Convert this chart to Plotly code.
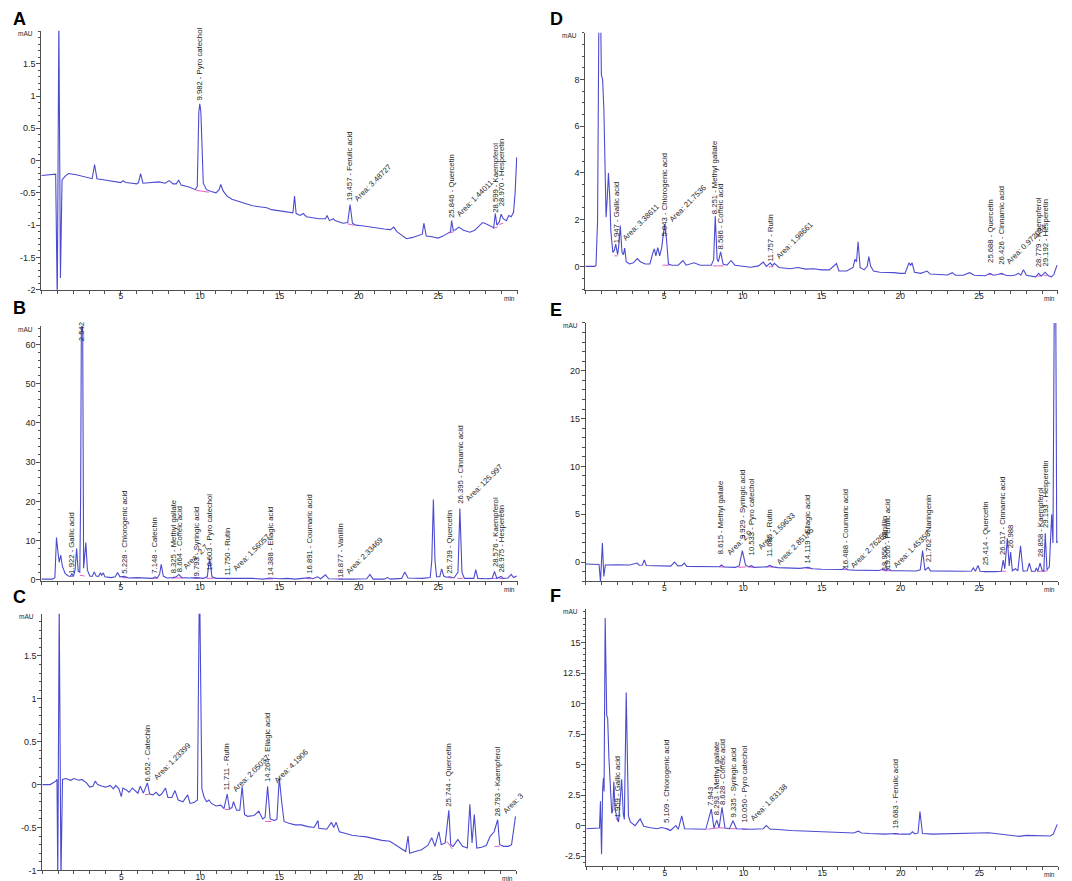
import plotly.graph_objects as go

W, H = 1072, 881

# ---------------- Panel A ----------------
A_time = [0, 0.5, 0.9, 1.0, 1.1, 1.2, 1.3, 1.5, 1.7, 2.2, 2.7, 3.2, 3.35, 3.5, 4.0, 4.5, 5.0, 5.15, 5.3,
          5.7, 6.0, 6.12, 6.25, 6.4, 7.0, 7.4, 7.8, 8.05, 8.3, 8.5, 8.65, 8.8, 9.3, 9.7, 9.82, 9.92, 9.98,
          10.05, 10.2, 10.4, 10.7, 11.0, 11.2, 11.3, 11.45, 11.7, 12.0, 12.5, 13.0, 13.3, 13.6, 14.0, 14.2,
          14.5, 15.0, 15.5, 15.85, 15.95, 16.05, 16.3, 16.5, 16.7, 17.0, 17.5, 17.9, 18.0, 18.15, 18.4,
          18.5, 18.7, 19.0, 19.3, 19.45, 19.6, 19.8, 20.2, 20.7, 21.2, 21.6, 22.0, 22.2, 22.4, 22.8, 23.0,
          23.4, 23.8, 24.0, 24.1, 24.25, 24.6, 24.85, 25.0, 25.3, 25.6, 25.78, 25.85, 25.95, 26.1, 26.3,
          26.6, 27.0, 27.3, 27.6, 27.8, 28.0, 28.3, 28.5, 28.6, 28.7, 28.85, 28.97, 29.1, 29.3, 29.45,
          29.6, 29.75, 29.85, 29.95]
A_mAU = [-0.23, -0.22, -0.21, -2.2, 2.2, -1.82, -0.3, -0.24, -0.2, -0.22, -0.25, -0.28, -0.06, -0.28,
         -0.3, -0.32, -0.34, -0.31, -0.34, -0.35, -0.36, -0.34, -0.2, -0.35, -0.34, -0.33, -0.35, -0.31,
         -0.36, -0.36, -0.3, -0.38, -0.41, -0.45, -0.4, 0.75, 0.88, 0.75, -0.35, -0.45, -0.48, -0.5, -0.45,
         -0.37, -0.47, -0.55, -0.6, -0.64, -0.68, -0.7, -0.71, -0.72, -0.73, -0.76, -0.78, -0.8, -0.81,
         -0.55, -0.82, -0.85, -0.82, -0.87, -0.88, -0.9, -0.9, -0.85, -0.93, -0.9, -0.93, -0.95, -0.97,
         -0.96, -0.68, -0.97, -1.0, -1.01, -1.03, -1.04, -1.06, -1.07, -1.03, -1.1, -1.17, -1.21, -1.19,
         -1.16, -1.14, -0.97, -1.17, -1.18, -1.19, -1.2, -1.17, -1.13, -1.1, -0.93, -1.08, -1.07, -1.03,
         -1.08, -1.11, -1.08, -1.0, -0.96, -0.98, -1.02, -1.04, -0.82, -1.0, -0.95, -0.83, -0.9, -0.93,
         -0.85, -0.87, -0.8, -0.5, 0.05]
A_integ = [(9.75, 10.55, -0.46, -0.49), (19.3, 19.7, -0.98, -1.0), (25.7, 26.0, -1.12, -1.1),
           (28.45, 28.75, -1.05, -1.03), (28.85, 29.1, -0.99, -0.97)]
A_rt = [9.982, 19.457, 25.846, 28.599, 28.970]
A_name = ["Pyro catechol", "Ferulic acid", "Quercetin", "Kaempferol", "Hesperetin"]
A_label_at = [0.92, -0.64, -0.91, -0.82, -0.72]
A_area_x = [19.56, 25.95]
A_area = ["3.48727", "1.44011"]
A_area_at = [-0.68, -0.92]
A_yrange = [-2.0, 2.01]
A_yticks = [-2, -1.5, -1, -0.5, 0, 0.5, 1, 1.5]

# ---------------- Panel B ----------------
B_time = [0, 0.7, 0.85, 0.95, 1.02, 1.12, 1.22, 1.32, 1.5, 1.7, 1.82, 1.92, 2.02, 2.12, 2.22, 2.32, 2.42,
          2.47, 2.52, 2.6, 2.66, 2.8, 2.9, 3.05, 3.2, 3.33, 3.45, 3.6, 3.72, 3.8, 3.9, 4.0, 4.4, 4.65, 4.8,
          4.95, 5.23, 5.5, 6.0, 6.5, 7.0, 7.15, 7.3, 7.45, 7.55, 7.68, 7.9, 8.3, 8.5, 8.66, 8.85, 9.3, 9.79,
          10.2, 10.45, 10.6, 10.75, 11.0, 11.75, 12.5, 13.3, 14.0, 14.39, 15.0, 15.5, 16.0, 16.9, 17.1,
          17.4, 17.6, 17.9, 18.1, 18.9, 19.5, 20.5, 20.7, 20.9, 21.6, 21.8, 22.0, 22.7, 22.9, 23.1, 23.5,
          24.0, 24.5, 24.6, 24.7, 24.8, 24.9, 25.1, 25.22, 25.35, 25.5, 25.74, 26.0, 26.25, 26.37, 26.5,
          26.65, 27.0, 27.25, 27.37, 27.5, 28.0, 28.4, 28.55, 28.7, 28.97, 29.1, 29.4, 29.6, 29.75, 29.95]
B_mAU = [0.2, 0.2, 0.6, 10.8, 8.0, 4.5, 6.3, 3.5, 1.6, 1.0, 0.9, 1.6, 0.9, 2.5, 8.0, 2.2, 2.0, 20.0, 66.0,
         66.0, 3.0, 9.5, 2.5, 1.0, 0.9, 2.0, 1.0, 0.9, 1.8, 1.2, 1.8, 0.8, 0.6, 0.8, 1.9, 0.8, 0.9, 0.5,
         0.6, 0.5, 0.4, 0.8, 0.5, 1.5, 4.0, 1.0, 0.5, 0.6, 0.8, 1.4, 0.6, 0.5, 0.6, 0.4, 0.8, 5.5, 0.8,
         0.4, 0.4, 0.3, 0.4, 0.2, 0.5, 0.3, 0.4, 0.2, 0.6, 0.3, 0.8, 0.3, 1.3, 0.3, 0.2, 0.2, 0.3, 1.4,
         0.2, 0.2, 0.6, 0.2, 0.4, 2.0, 0.5, 0.4, 0.4, 0.6, 5.0, 20.5, 5.0, 0.8, 0.8, 2.8, 1.0, 0.7, 0.8,
         0.5, 2.0, 18.2, 2.0, 0.4, 0.3, 0.4, 2.6, 0.4, 0.3, 0.4, 2.2, 0.4, 0.9, 0.4, 0.5, 1.4, 0.6, 1.0]
B_integ = [(1.85, 2.0, 0.9, 0.9), (2.42, 2.72, 1.2, 1.0), (5.1, 5.4, 0.6, 0.5), (7.0, 7.3, 0.4, 0.4),
           (8.2, 8.9, 0.5, 0.5), (9.6, 10.0, 0.4, 0.4), (10.4, 10.85, 0.4, 0.4), (11.6, 11.9, 0.3, 0.3),
           (14.2, 14.6, 0.25, 0.25), (16.7, 17.0, 0.35, 0.3), (18.7, 19.0, 0.2, 0.2), (25.6, 25.9, 0.6, 0.5),
           (26.2, 26.55, 0.4, 0.4), (28.4, 28.7, 0.4, 0.4), (28.85, 29.1, 0.35, 0.35)]
B_rt = [1.922, 2.542, 5.228, 7.148, 8.325, 8.664, 9.793, 10.603, 11.750, 14.388, 16.891, 18.877,
        25.739, 26.395, 28.576, 28.975]
B_name = ["Gallic acid", "", "Chlorogenic acid", "Catechin", "Methyl gallate", "Coffeic acid",
          "Syringic acid", "Pyro catechol", "Rutin", "Ellagic acid", "Coumaric acid", "Vanillin",
          "Quercetin", "Cinnamic acid", "Kaempferol", "Hesperetin"]
B_label_at = [1.3, 60.6, 1.3, 1.3, 1.3, 1.7, 0.6, 2.1, 0.85, 0.85, 1.3, 0.4, 1.3, 19.1, 3.0, 1.7]
B_area_x = [8.75, 11.87, 19.0, 26.55]
B_area = ["2.7", "1.56057", "2.33469", "125.997"]
B_area_at = [2.0, 1.6, 0.8, 19.3]
B_yrange = [-0.2, 64.64]
B_yticks = [0, 10, 20, 30, 40, 50, 60]

# ---------------- Panel C ----------------
C_time = [0, 0.5, 0.85, 0.93, 0.98, 1.07, 1.18, 1.28, 1.5, 1.8, 2.0, 2.3, 2.5, 2.8, 3.0, 3.2, 3.35, 3.5,
          3.8, 4.0, 4.3, 4.5, 4.65, 4.85, 5.0, 5.1, 5.3, 5.5, 5.7, 5.9, 6.05, 6.2, 6.4, 6.65, 6.8, 7.0,
          7.2, 7.4, 7.55, 7.8, 7.95, 8.2, 8.4, 8.6, 8.9, 9.2, 9.35, 9.6, 9.82, 9.93, 9.97, 10.1, 10.25,
          10.4, 10.55, 10.7, 11.0, 11.3, 11.5, 11.7, 11.85, 12.0, 12.1, 12.3, 12.5, 12.65, 12.8, 13.0,
          13.4, 13.7, 13.95, 14.1, 14.26, 14.42, 14.7, 14.85, 15.0, 15.15, 15.3, 15.6, 16.0, 16.4, 16.8,
          17.2, 17.45, 17.5, 18.0, 18.3, 18.45, 18.6, 18.8, 19.2, 19.6, 20.0, 20.5, 21.0, 21.5, 22.0,
          22.5, 23.0, 23.15, 23.25, 23.6, 24.0, 24.4, 24.65, 24.85, 25.1, 25.25, 25.5, 25.73, 25.85,
          26.0, 26.3, 26.6, 26.9, 27.06, 27.2, 27.34, 27.5, 27.8, 28.1, 28.35, 28.6, 28.82, 28.95,
          29.2, 29.5, 29.7, 29.95]
C_mAU = [0.0, 0.0, 0.04, 0.06, -1.1, 2.1, -1.1, 0.06, 0.07, 0.05, 0.07, 0.05, 0.06, 0.02, -0.03, -0.02,
         0.04, 0.0, -0.02, -0.03, -0.01, -0.05, -0.01, -0.05, -0.14, -0.04, -0.06, -0.09, -0.04, -0.08,
         -0.1, -0.02, -0.1, 0.02, -0.11, -0.12, -0.09, -0.13, -0.11, -0.04, -0.15, -0.15, -0.07, -0.18,
         -0.2, -0.12, -0.22, -0.21, -0.18, 2.1, 2.1, -0.05, -0.15, -0.2, -0.18, -0.22, -0.25, -0.24,
         -0.28, -0.11, -0.28, -0.27, -0.2, -0.3, -0.3, -0.02, -0.35, -0.37, -0.36, -0.31, -0.4, -0.38,
         -0.02, -0.4, -0.42, -0.4, 0.08, -0.2, -0.43, -0.45, -0.47, -0.47, -0.49, -0.5, -0.42, -0.51,
         -0.52, -0.44, -0.5, -0.44, -0.55, -0.57, -0.59, -0.6, -0.61, -0.63, -0.65, -0.66, -0.72, -0.78,
         -0.6, -0.8, -0.78, -0.76, -0.71, -0.62, -0.72, -0.55, -0.7, -0.68, -0.3, -0.7, -0.72, -0.64,
         -0.72, -0.74, -0.23, -0.68, -0.35, -0.74, -0.73, -0.71, -0.6, -0.55, -0.41, -0.7, -0.72, -0.72,
         -0.7, -0.37]
C_integ = [(6.5, 6.8, -0.12, -0.11), (11.55, 11.9, -0.29, -0.29), (14.1, 14.5, -0.43, -0.43),
           (25.6, 25.95, -0.66, -0.75), (28.62, 28.95, -0.72, -0.72)]
C_rt = [6.652, 11.711, 14.264, 25.744, 28.793]
C_name = ["Catechin", "Rutin", "Ellagic acid", "Quercetin", "Kaempferol"]
C_label_at = [0.03, -0.08, 0.02, -0.27, -0.38]
C_area_x = [6.85, 11.85, 14.45, 28.95]
C_area = ["1.23399", "2.05037", "4.1906", "3"]
C_area_at = [0.02, -0.12, -0.02, -0.38]
C_yrange = [-1.0, 1.99]
C_yticks = [-1, -0.5, 0, 0.5, 1, 1.5]

# ---------------- Panel D ----------------
D_time = [0, 0.6, 0.68, 0.78, 0.86, 0.98, 1.02, 1.1, 1.18, 1.26, 1.32, 1.4, 1.47, 1.55, 1.62, 1.75, 1.85,
          1.93, 2.05, 2.13, 2.22, 2.33, 2.42, 2.5, 2.6, 2.8, 3.05, 3.3, 3.5, 3.8, 4.1, 4.3, 4.38, 4.48,
          4.6, 4.72, 4.85, 5.03, 5.15, 5.28, 5.5, 5.9, 6.2, 6.4, 6.9, 7.3, 8.0, 8.15, 8.25, 8.37, 8.45,
          8.59, 8.75, 9.0, 9.25, 9.5, 10.0, 10.5, 11.0, 11.3, 11.5, 11.75, 11.88, 12.0, 12.3, 12.7, 13.0,
          13.5, 14.0, 14.5, 15.0, 15.5, 15.95, 16.1, 16.6, 17.0, 17.12, 17.22, 17.32, 17.45, 17.7, 17.9,
          18.0, 18.12, 18.3, 18.7, 19.2, 19.6, 20.0, 20.3, 20.55, 20.65, 20.75, 20.9, 21.3, 21.7, 21.9,
          22.5, 23.0, 23.3, 23.5, 24.0, 24.4, 24.7, 25.0, 25.4, 25.69, 25.9, 26.2, 26.43, 26.7, 27.0,
          27.3, 27.5, 27.65, 27.82, 28.0, 28.4, 28.6, 28.78, 28.95, 29.19, 29.4, 29.6, 29.75, 29.95]
D_mAU = [0.0, 0.0, 0.05, 2.0, 10.5, 10.5, 8.2, 8.0, 6.7, 4.5, 2.1, 3.0, 4.0, 3.0, 1.5, 0.6, 0.7, 0.95,
         0.5, 0.9, 1.75, 0.6, 0.5, 0.78, 0.2, 0.1, 0.15, 0.33, 0.2, 0.1, 0.1, 0.6, 0.75, 0.45, 0.8, 0.45,
         0.8, 1.8, 1.2, 0.1, 0.05, 0.05, 0.25, 0.05, 0.15, 0.05, 0.05, 0.3, 2.15, 0.3, 0.2, 0.62, 0.1,
         0.05, 0.25, 0.05, 0.02, -0.04, 0.02, 0.18, 0.0, 0.15, 0.02, 0.13, -0.05, -0.08, -0.1, -0.05,
         -0.12, -0.1, -0.15, -0.15, 0.12, -0.2, -0.2, -0.05, 0.3, 0.2, 1.05, -0.05, -0.15, 0.0, 0.42, 0.0,
         -0.2, -0.25, -0.25, -0.27, -0.3, -0.3, 0.15, 0.05, 0.15, -0.25, -0.3, -0.2, -0.33, -0.35, -0.37,
         -0.27, -0.38, -0.38, -0.27, -0.38, -0.4, -0.4, -0.3, -0.38, -0.35, -0.3, -0.38, -0.4, -0.37,
         -0.3, -0.38, -0.15, -0.38, -0.43, -0.45, -0.3, -0.42, -0.25, -0.4, -0.45, -0.35, 0.05]
D_integ = [(1.85, 2.05, 0.45, 0.45), (4.9, 5.35, 0.05, 0.05), (8.1, 8.45, 0.02, 0.02), (8.45, 8.8, 0.02, 0.02),
           (11.65, 11.95, -0.02, -0.02), (25.6, 25.85, -0.35, -0.35), (26.3, 26.55, -0.33, -0.35),
           (28.7, 28.9, -0.42, -0.42), (29.1, 29.3, -0.38, -0.4)]
D_rt = [1.947, 5.043, 8.251, 8.586, 11.757, 25.688, 26.426, 28.779, 29.192]
D_name = ["Gallic acid", "Chlorogenic acid", "Methyl gallate", "Coffeic acid", "Rutin", "Quercetin",
          "Cinnamic acid", "Kaempferol", "Hesperetin"]
D_label_at = [0.94, 1.25, 2.2, 0.66, 0.17, 0.1, 0.03, -0.1, -0.05]
D_area_x = [2.15, 5.15, 11.9, 26.5]
D_area = ["3.38611", "21.7536", "1.98661", "0.972034"]
D_area_at = [0.95, 1.75, 0.2, -0.05]
D_yrange = [-1.0, 10.0]
D_yticks = [0, 2, 4, 6, 8]

# ---------------- Panel E ----------------
E_time = [0, 0.85, 0.94, 1.06, 1.15, 1.25, 2.0, 2.8, 3.26, 3.4, 3.6, 3.72, 3.85, 4.5, 5.0, 5.4, 5.64, 5.85,
          6.1, 6.26, 6.42, 7.0, 7.5, 8.0, 8.5, 8.62, 8.8, 9.5, 9.75, 9.95, 10.15, 10.35, 10.53, 10.7, 11.2,
          11.5, 11.68, 11.9, 12.2, 13.0, 13.6, 14.12, 14.4, 15.0, 15.6, 16.0, 16.3, 16.45, 16.65, 17.0,
          17.5, 18.0, 18.6, 18.95, 19.08, 19.2, 19.4, 20.0, 20.5, 21.0, 21.25, 21.4, 21.55, 21.76, 21.9,
          22.5, 23.0, 23.5, 24.0, 24.5, 24.62, 24.75, 24.92, 25.05, 25.4, 26.0, 26.4, 26.52, 26.62,
          26.78, 26.9, 26.99, 27.1, 27.3, 27.45, 27.62, 27.78, 28.05, 28.18, 28.32, 28.55, 28.62, 28.72,
          28.86, 29.0, 29.1, 29.19, 29.3, 29.45, 29.6, 29.68, 29.76, 29.86, 29.92, 29.97]
E_mAU = [-0.2, -0.25, -2.1, 2.0, -1.5, -0.3, -0.27, -0.3, -0.1, -0.33, -0.3, 0.22, -0.35, -0.4, -0.45,
         -0.42, 0.0, -0.4, -0.38, -0.1, -0.45, -0.46, -0.48, -0.5, -0.48, -0.3, -0.52, -0.55, -0.4, 1.2,
         -0.3, -0.5, -0.38, -0.55, -0.55, -0.5, -0.35, -0.5, -0.58, -0.63, -0.66, -0.55, -0.7, -0.74,
         -0.78, -0.8, -0.78, -0.55, -0.8, -0.84, -0.86, -0.9, -0.88, -0.72, -0.9, -0.65, -0.9, -0.9,
         -0.92, -0.93, -0.8, 1.2, -0.85, -0.55, -0.92, -0.95, -0.95, -0.96, -0.95, -0.93, -0.6, -0.95,
         -0.35, -0.95, -1.0, -1.0, -0.95, 0.2, -0.7, 2.5, -0.4, 1.05, -0.9, -0.7, -0.9, 1.7, -0.95, -0.9,
         -0.1, -0.95, -0.95, -0.6, -0.95, -0.1, -0.9, -0.95, 3.0, -0.8, -0.5, 5.0, 2.0, 26.0, 26.0, 2.0,
         2.2]
E_integ = [(8.5, 8.8, -0.5, -0.52), (9.7, 10.2, -0.55, -0.5), (10.4, 10.7, -0.52, -0.55),
           (11.5, 11.9, -0.5, -0.52), (14.0, 14.4, -0.62, -0.7), (16.3, 16.7, -0.78, -0.8),
           (18.85, 19.1, -0.88, -0.9), (19.1, 19.4, -0.9, -0.9), (25.3, 25.55, -1.0, -1.0),
           (26.4, 26.7, -0.95, -0.95), (28.7, 29.0, -0.98, -0.95), (29.05, 29.35, -0.95, -0.9)]
E_rt = [8.615, 9.929, 10.533, 11.685, 14.119, 16.488, 18.956, 19.200, 21.762, 25.414, 26.517, 26.988,
        28.858, 29.193]
E_name = ["Methyl gallate", "Syringic acid", "Pyro catechol", "Rutin", "Ellagic acid", "Coumaric acid",
          "Vanillin", "Ferulic acid", "Naringenin", "Quercetin", "Cinnamic acid", "", "Kaempferol",
          "Hesperetin"]
E_label_at = [0.75, 2.3, 0.6, 0.4, -0.2, -0.8, -1.0, -0.8, -0.1, -0.45, 0.6, 1.3, 0.4, 3.5]
E_area_x = [8.8, 10.75, 11.9, 16.65, 19.35]
E_area = ["2.0", "1.59633", "2.85145", "2.76265", "1.45358"]
E_area_at = [0.4, 0.9, -0.6, -0.97, -0.97]
E_yrange = [-2.02, 25.0]
E_yticks = [0, 5, 10, 15, 20]

# ---------------- Panel F ----------------
F_time = [0, 0.75, 0.84, 0.9, 0.97, 1.04, 1.09, 1.13, 1.2, 1.3, 1.36, 1.44, 1.52, 1.62, 1.68, 1.75, 1.83,
          1.9, 1.97, 2.05, 2.15, 2.25, 2.35, 2.42, 2.54, 2.68, 2.8, 3.1, 3.43, 3.65, 4.0, 4.5, 4.8, 5.11,
          5.35, 5.7, 5.85, 6.07, 6.25, 7.0, 7.6, 7.95, 8.12, 8.3, 8.45, 8.63, 8.82, 9.1, 9.33, 9.55, 10.05,
          10.5, 11.25, 11.45, 11.7, 12.0, 13.0, 14.0, 15.0, 16.0, 17.0, 17.3, 17.5, 18.0, 19.0, 19.68,
          20.0, 20.6, 20.74, 20.9, 21.1, 21.22, 21.38, 22.0, 23.0, 24.0, 25.0, 25.6, 26.0, 27.0, 27.5,
          28.0, 29.0, 29.5, 29.7, 29.95]
F_mAU = [-0.25, -0.25, -0.2, 2.0, -2.35, 3.0, 3.9, 2.8, 17.0, 9.0, 8.8, 5.5, 3.0, 1.0, 1.2, 3.6, 1.3, 0.8,
         0.6, 0.3, 2.0, 3.8, 1.0, 0.5, 10.9, 0.8, 0.3, 0.0, 0.55, -0.05, -0.15, -0.25, -0.15, -0.25, -0.4,
         0.0, -0.3, 0.8, -0.25, -0.3, -0.3, 1.35, -0.2, 0.45, -0.15, 1.5, -0.2, -0.25, 0.4, -0.25, -0.3,
         -0.3, -0.25, 0.0, -0.3, -0.3, -0.4, -0.45, -0.5, -0.55, -0.6, -0.45, -0.6, -0.65, -0.7, -0.65,
         -0.7, -0.7, -0.5, -0.68, -0.6, 1.15, -0.65, -0.7, -0.65, -0.6, -0.57, -0.58, -0.65, -0.8, -0.88,
         -0.8, -0.85, -0.85, -0.7, 0.1]
F_integ = [(1.88, 2.05, 0.6, 0.3), (5.0, 5.3, -0.25, -0.3), (7.7, 8.1, -0.3, -0.22), (8.1, 8.45, -0.22, -0.18),
           (8.45, 8.8, -0.18, -0.2), (9.1, 9.6, -0.25, -0.25), (9.9, 10.25, -0.3, -0.3), (19.5, 19.9, -0.68, -0.7)]
F_rt = [1.959, 5.109, 7.943, 8.293, 8.628, 9.335, 10.050, 19.683]
F_name = ["Gallic acid", "Chlorogenic acid", "", "Methyl gallate", "Coffeic acid", "Syringic acid",
          "Pyro catechol", "Ferulic acid"]
F_label_at = [0.6, 0.15, 1.5, 0.75, 1.6, 0.6, 0.15, -0.35]
F_area_x = [10.25]
F_area = ["1.83138"]
F_area_at = [0.1]
F_yrange = [-3.34, 17.78]
F_yticks = [-2.5, 0, 2.5, 5, 7.5, 10, 12.5, 15]

X_TICKS = [5, 10, 15, 20, 25]

# ---------------- layout / styling ----------------
PANELS = [
    ("A", A_time, A_mAU, A_integ, A_rt, A_name, A_label_at, A_area_x, A_area, A_area_at, A_yrange, A_yticks, 0.1),
    ("B", B_time, B_mAU, B_integ, B_rt, B_name, B_label_at, B_area_x, B_area, B_area_at, B_yrange, B_yticks, 2),
    ("C", C_time, C_mAU, C_integ, C_rt, C_name, C_label_at, C_area_x, C_area, C_area_at, C_yrange, C_yticks, 0.1),
    ("D", D_time, D_mAU, D_integ, D_rt, D_name, D_label_at, D_area_x, D_area, D_area_at, D_yrange, D_yticks, 0.5),
    ("E", E_time, E_mAU, E_integ, E_rt, E_name, E_label_at, E_area_x, E_area, E_area_at, E_yrange, E_yticks, 1),
    ("F", F_time, F_mAU, F_integ, F_rt, F_name, F_label_at, F_area_x, F_area, F_area_at, F_yrange, F_yticks, 0.5),
]
# plot-area pixel boxes: left, right, top, bottom
GEOM = {
    "A": (33.4, 509.5, 23.0, 283.3),
    "B": (33.4, 509.5, 320.0, 576.0),
    "C": (34.3, 508.3, 609.3, 867.3),
    "D": (577.3, 1049.8, 25.0, 283.3),
    "E": (577.7, 1050.0, 316.7, 576.7),
    "F": (578.3, 1050.0, 604.0, 863.3),
}
LETTER = {"A": (3, 11), "B": (3, 302), "C": (3, 592.5),
          "D": (540, 11), "E": (540, 303.5), "F": (540, 591)}

FONT = "Liberation Sans, Arial, sans-serif"
LINE = "#4b4bd0"
PINK = "rgb(232,92,200)"
AXC = "#505050"
TXT = "#1e1e1e"

fig = go.Figure()
layout = dict(width=W, height=H, margin=dict(l=0, r=0, t=0, b=0), autosize=False,
              paper_bgcolor="white", plot_bgcolor="white", showlegend=False,
              font=dict(family=FONT, color=TXT))
ann = []

for i, (key, t, v, integ, rt, names, lab_at, ax_x, areas, area_at, yr, yt, ymin) in enumerate(PANELS, 1):
    sfx = "" if i == 1 else str(i)
    xa, ya = "x" + sfx, "y" + sfx
    l, r, top, bot = GEOM[key]
    layout["xaxis" + sfx] = dict(
        domain=[l / W, r / W], anchor=ya, range=[0, 30], showline=True, linecolor=AXC, linewidth=1,
        showgrid=False, zeroline=False, ticks="outside", ticklen=4, tickcolor=AXC,
        tickmode="array", tickvals=X_TICKS, ticktext=[str(x) for x in X_TICKS],
        tickfont=dict(size=8.5, family=FONT, color=TXT), ticklabelstandoff=-6,
        minor=dict(tickmode="linear", tick0=0, dtick=1, ticks="outside", ticklen=3, tickcolor=AXC, showgrid=False),
    )
    layout["yaxis" + sfx] = dict(
        domain=[1 - bot / H, 1 - top / H], anchor=xa, range=yr, showline=True, linecolor=AXC, linewidth=1,
        showgrid=False, zeroline=False, ticks="outside", ticklen=4, tickcolor=AXC,
        tickmode="array", tickvals=yt, ticktext=[f"{y:g}" for y in yt],
        tickfont=dict(size=9, family=FONT, color=TXT), ticklabelstandoff=-1,
        minor=dict(tickmode="linear", tick0=0, dtick=ymin, ticks="outside", ticklen=2.5, tickcolor=AXC, showgrid=False),
    )
    # integration baselines
    ix, iy = [], []
    for (t0, t1, v0, v1) in integ:
        ix += [t0, t1, None]
        iy += [v0, v1, None]
    fig.add_trace(go.Scatter(x=ix, y=iy, xaxis=xa, yaxis=ya, mode="lines",
                             line=dict(color=PINK, width=1), hoverinfo="skip"))
    # chromatogram
    fig.add_trace(go.Scatter(x=t, y=v, xaxis=xa, yaxis=ya, mode="lines",
                             line=dict(color=LINE, width=1.1), hoverinfo="skip"))
    # peak labels
    for p, name, at in zip(rt, names, lab_at):
        txt = f"{p:.3f} - {name}" if name else f"{p:.3f}"
        ann.append(dict(x=p, y=at, xref=xa, yref=ya, text=txt, textangle=-90, showarrow=False,
                        xanchor="center", yanchor="bottom", borderpad=0,
                        font=dict(size=7.7, family=FONT, color=TXT)))
    for ax_, a, at in zip(ax_x, areas, area_at):
        ann.append(dict(x=ax_, y=at, xref=xa, yref=ya, text=f"Area: {a}", textangle=-45, showarrow=False,
                        xanchor="left", yanchor="bottom", borderpad=0,
                        font=dict(size=7.7, family=FONT, color=TXT)))
    # mAU / min captions
    ann.append(dict(x=(l - 6) / W, y=1 - (top + 3) / H, xref="paper", yref="paper", text="mAU",
                    showarrow=False, xanchor="right", yanchor="middle",
                    font=dict(size=6.5, family=FONT, color=TXT)))
    ann.append(dict(x=(r - 1) / W, y=1 - (bot + 8.5) / H, xref="paper", yref="paper", text="min",
                    showarrow=False, xanchor="right", yanchor="middle",
                    font=dict(size=6.5, family=FONT, color=TXT)))
    # panel letter
    lx, ly = LETTER[key]
    ann.append(dict(x=lx / W, y=1 - ly / H, xref="paper", yref="paper", text=f"<b>{key}</b>",
                    showarrow=False, xanchor="left", yanchor="middle",
                    font=dict(size=18, family=FONT, color="black")))

layout["annotations"] = ann
fig.update_layout(**layout)
fig.write_html("out.html")
